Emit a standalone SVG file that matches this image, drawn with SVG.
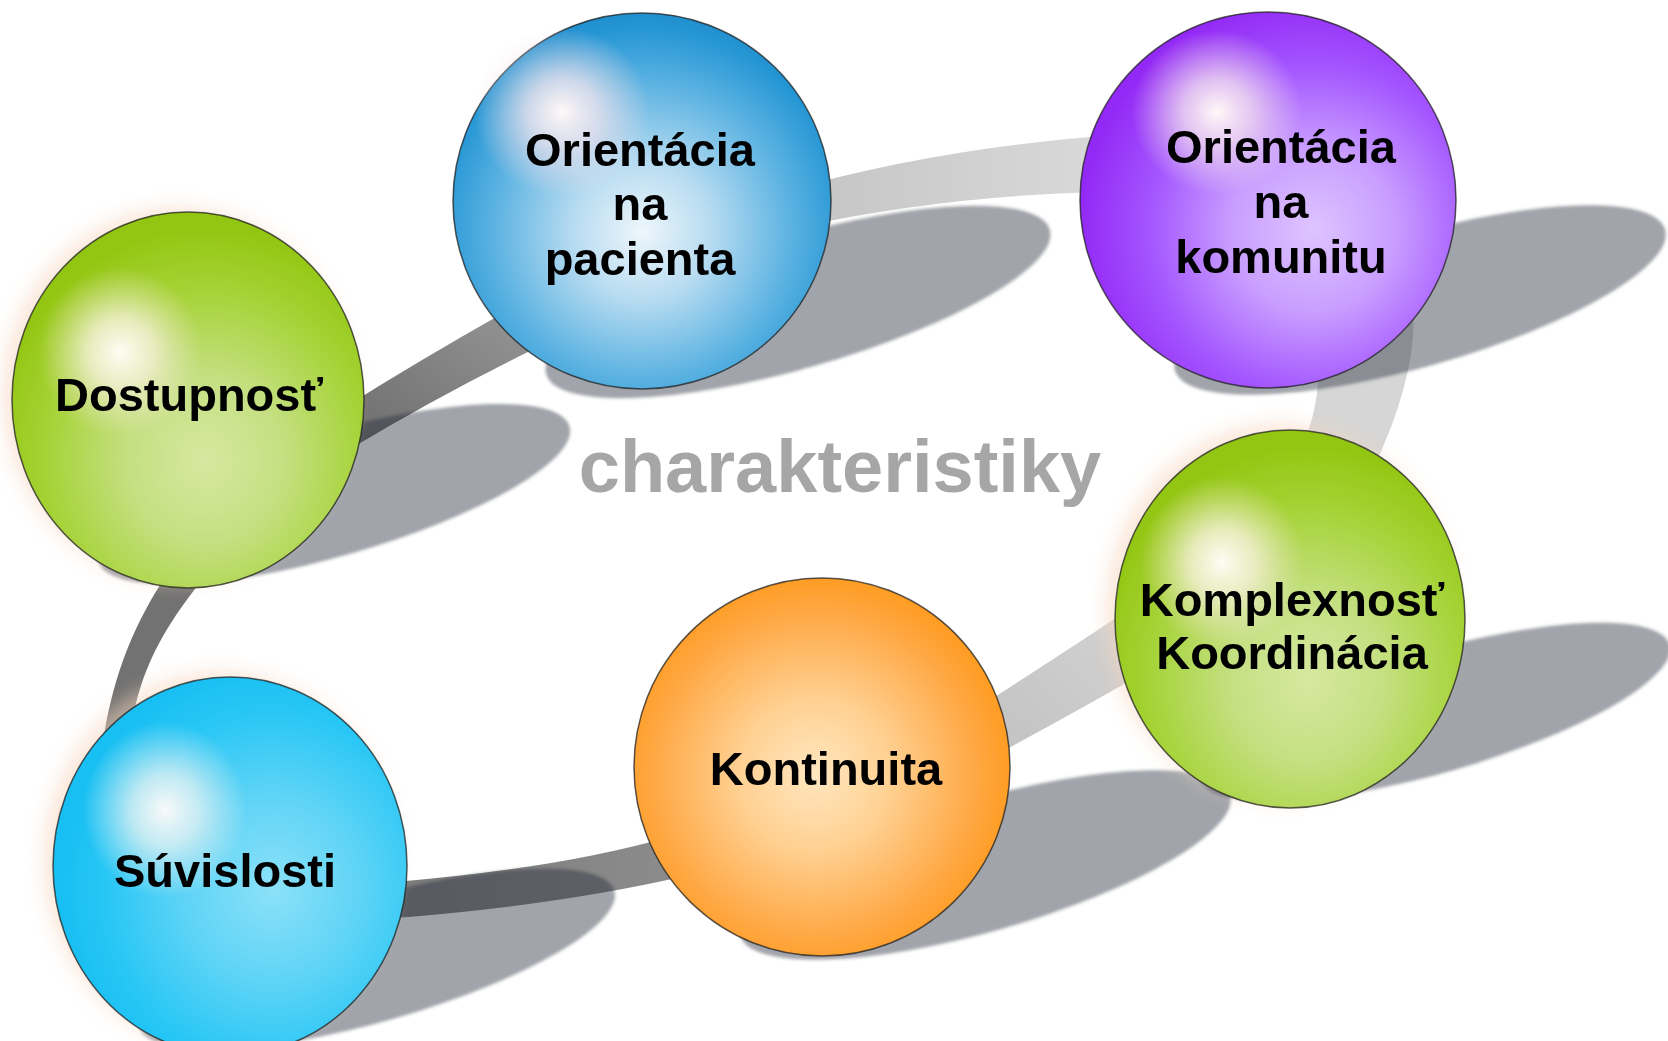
<svg xmlns="http://www.w3.org/2000/svg" width="1668" height="1041" viewBox="0 0 1668 1041">
<defs>
<style>
.lbl{font-family:"Liberation Sans",Arial,sans-serif;font-weight:bold;font-size:47px;fill:#000;text-anchor:middle}
.title{font-family:"Liberation Sans",Arial,sans-serif;font-weight:bold;font-size:74px;fill:#a6a6a6;text-anchor:middle}
.ball{stroke:#222;stroke-width:1.5;stroke-opacity:0.75}
.shadow{fill:rgb(35,44,58);fill-opacity:0.43}
.glow{fill:#f7d6bd;opacity:0.55}
</style>
<filter id="soft" x="-10%" y="-10%" width="120%" height="120%"><feGaussianBlur stdDeviation="1.5"/></filter>
<filter id="glowf" x="-30%" y="-30%" width="160%" height="160%"><feGaussianBlur stdDeviation="9"/></filter>
<radialGradient id="gBlue" cx="0.5" cy="0.58" r="0.6">
<stop offset="0" stop-color="#eef6fb"/><stop offset="0.3" stop-color="#b8dcf1"/><stop offset="0.65" stop-color="#5db3e2"/><stop offset="0.9" stop-color="#2596d4"/><stop offset="1" stop-color="#1d8bcb"/>
</radialGradient>
<radialGradient id="gPurple" cx="0.62" cy="0.58" r="0.62">
<stop offset="0" stop-color="#dec4ff"/><stop offset="0.35" stop-color="#c99eff"/><stop offset="0.7" stop-color="#a456ff"/><stop offset="1" stop-color="#9329f5"/>
</radialGradient>
<radialGradient id="gGreen" cx="0.55" cy="0.66" r="0.62">
<stop offset="0" stop-color="#d6e8a0"/><stop offset="0.35" stop-color="#c4e082"/><stop offset="0.75" stop-color="#a4d233"/><stop offset="1" stop-color="#93c612"/>
</radialGradient>
<radialGradient id="gOrange" cx="0.48" cy="0.52" r="0.58">
<stop offset="0" stop-color="#ffe6c0"/><stop offset="0.35" stop-color="#ffd091"/><stop offset="0.75" stop-color="#ffa742"/><stop offset="1" stop-color="#ff960f"/>
</radialGradient>
<radialGradient id="gCyan" cx="0.62" cy="0.56" r="0.6">
<stop offset="0" stop-color="#8ce1f8"/><stop offset="0.4" stop-color="#60d4f6"/><stop offset="0.8" stop-color="#26c6f5"/><stop offset="1" stop-color="#18bff2"/>
</radialGradient>
<radialGradient id="hlWarm" cx="0.5" cy="0.5" r="0.5">
<stop offset="0" stop-color="#fffcf4" stop-opacity="1"/><stop offset="0.4" stop-color="#fbf3e4" stop-opacity="0.75"/><stop offset="1" stop-color="#f1e6c8" stop-opacity="0"/>
</radialGradient>
<radialGradient id="hlPink" cx="0.5" cy="0.5" r="0.5">
<stop offset="0" stop-color="#fff8f8" stop-opacity="1"/><stop offset="0.4" stop-color="#f6e6ee" stop-opacity="0.75"/><stop offset="1" stop-color="#f0dde8" stop-opacity="0"/>
</radialGradient>
<radialGradient id="hlCool" cx="0.5" cy="0.5" r="0.5">
<stop offset="0" stop-color="#f8faf9" stop-opacity="1"/><stop offset="0.4" stop-color="#eef4f3" stop-opacity="0.75"/><stop offset="1" stop-color="#e8f2f2" stop-opacity="0"/>
</radialGradient>
<linearGradient id="bandA" x1="0" y1="1" x2="1" y2="0">
<stop offset="0" stop-color="#6c6c6c"/><stop offset="1" stop-color="#959595"/>
</linearGradient>
<linearGradient id="bandB" x1="0" y1="0" x2="1" y2="0">
<stop offset="0" stop-color="#c4c4c4"/><stop offset="1" stop-color="#d9d9d9"/>
</linearGradient>
<linearGradient id="bandD" x1="0" y1="1" x2="1" y2="0">
<stop offset="0" stop-color="#c2c2c2"/><stop offset="1" stop-color="#d3d3d3"/>
</linearGradient>
<linearGradient id="bandE" x1="0" y1="0" x2="1" y2="0">
<stop offset="0" stop-color="#7c7c7c"/><stop offset="1" stop-color="#8c8c8c"/>
</linearGradient>
</defs>
<rect width="1668" height="1041" fill="#fff"/>

<g id="connectors">
<path d="M345,407 Q420,360 505,312 L532,350 Q440,395 350,449 Z" fill="url(#bandA)"/>
<path d="M790,190 Q930,150 1100,136 L1100,192 Q940,196 795,228 Z" fill="url(#bandB)"/>
<path d="M1412,300 C1418,345 1405,400 1375,465 L1295,465 C1310,430 1318,405 1318,375 Z" fill="#d6d6d6"/>
<path d="M1125,612 Q1060,655 990,700 L1005,750 Q1070,715 1140,675 Z" fill="url(#bandD)"/>
<path d="M395,882 Q560,868 665,838 L685,876 Q560,905 395,918 Z" fill="url(#bandE)"/>
<path d="M160,585 C135,625 115,670 104,735 L130,735 C138,680 155,640 198,585 Z" fill="#727272"/>
</g>

<g id="shadows" filter="url(#soft)">
<ellipse class="shadow" cx="334" cy="494" rx="245" ry="62" transform="rotate(-16 334 494)"/>
<ellipse class="shadow" cx="798" cy="302" rx="262" ry="66" transform="rotate(-16 798 302)"/>
<ellipse class="shadow" cx="1420" cy="300" rx="255" ry="66" transform="rotate(-16 1420 300)"/>
<ellipse class="shadow" cx="1435" cy="712" rx="244" ry="61" transform="rotate(-16 1435 712)"/>
<ellipse class="shadow" cx="985" cy="865" rx="255" ry="66" transform="rotate(-16 985 865)"/>
<ellipse class="shadow" cx="377" cy="959" rx="247" ry="62" transform="rotate(-16 377 959)"/>
</g>

<text class="title" x="840" y="492">charakteristiky</text>

<g id="node-pacienta">
<ellipse class="ball" cx="642" cy="201" rx="189" ry="188" fill="url(#gBlue)"/>
<ellipse cx="562" cy="112" rx="88" ry="85" fill="url(#hlPink)"/>
<text class="lbl" x="640" y="166">Orientácia</text>
<text class="lbl" x="640" y="220">na</text>
<text class="lbl" x="640" y="275">pacienta</text>
</g>

<g id="node-komunita">
<ellipse class="ball" cx="1268" cy="200" rx="188" ry="188" fill="url(#gPurple)"/>
<ellipse cx="1217" cy="112" rx="85" ry="82" fill="url(#hlPink)"/>
<text class="lbl" x="1281" y="163">Orientácia</text>
<text class="lbl" x="1281" y="218">na</text>
<text class="lbl" x="1281" y="273">komunitu</text>
</g>

<g id="node-dostupnost">
<ellipse class="glow" cx="178" cy="395" rx="176" ry="188" filter="url(#glowf)"/>
<ellipse class="ball" cx="188" cy="400" rx="176" ry="188" fill="url(#gGreen)"/>
<ellipse cx="120" cy="352" rx="82" ry="85" fill="url(#hlWarm)"/>
<text class="lbl" x="189" y="411">Dostupnosť</text>
</g>

<g id="node-komplexnost">
<ellipse class="glow" cx="1280" cy="612" rx="175" ry="189" filter="url(#glowf)"/>
<ellipse class="ball" cx="1290" cy="619" rx="175" ry="189" fill="url(#gGreen)"/>
<ellipse cx="1222" cy="562" rx="82" ry="85" fill="url(#hlWarm)"/>
<text class="lbl" x="1292" y="616">Komplexnosť</text>
<text class="lbl" x="1292" y="669">Koordinácia</text>
</g>

<g id="node-kontinuita">
<ellipse class="ball" cx="822" cy="767" rx="188" ry="189" fill="url(#gOrange)"/>
<text class="lbl" x="826" y="785">Kontinuita</text>
</g>

<g id="node-suvislosti">
<ellipse class="glow" cx="220" cy="860" rx="177" ry="189" filter="url(#glowf)"/>
<ellipse class="ball" cx="230" cy="866" rx="177" ry="189" fill="url(#gCyan)"/>
<ellipse cx="165" cy="810" rx="82" ry="88" fill="url(#hlCool)"/>
<text class="lbl" x="225" y="887">Súvislosti</text>
</g>
</svg>
